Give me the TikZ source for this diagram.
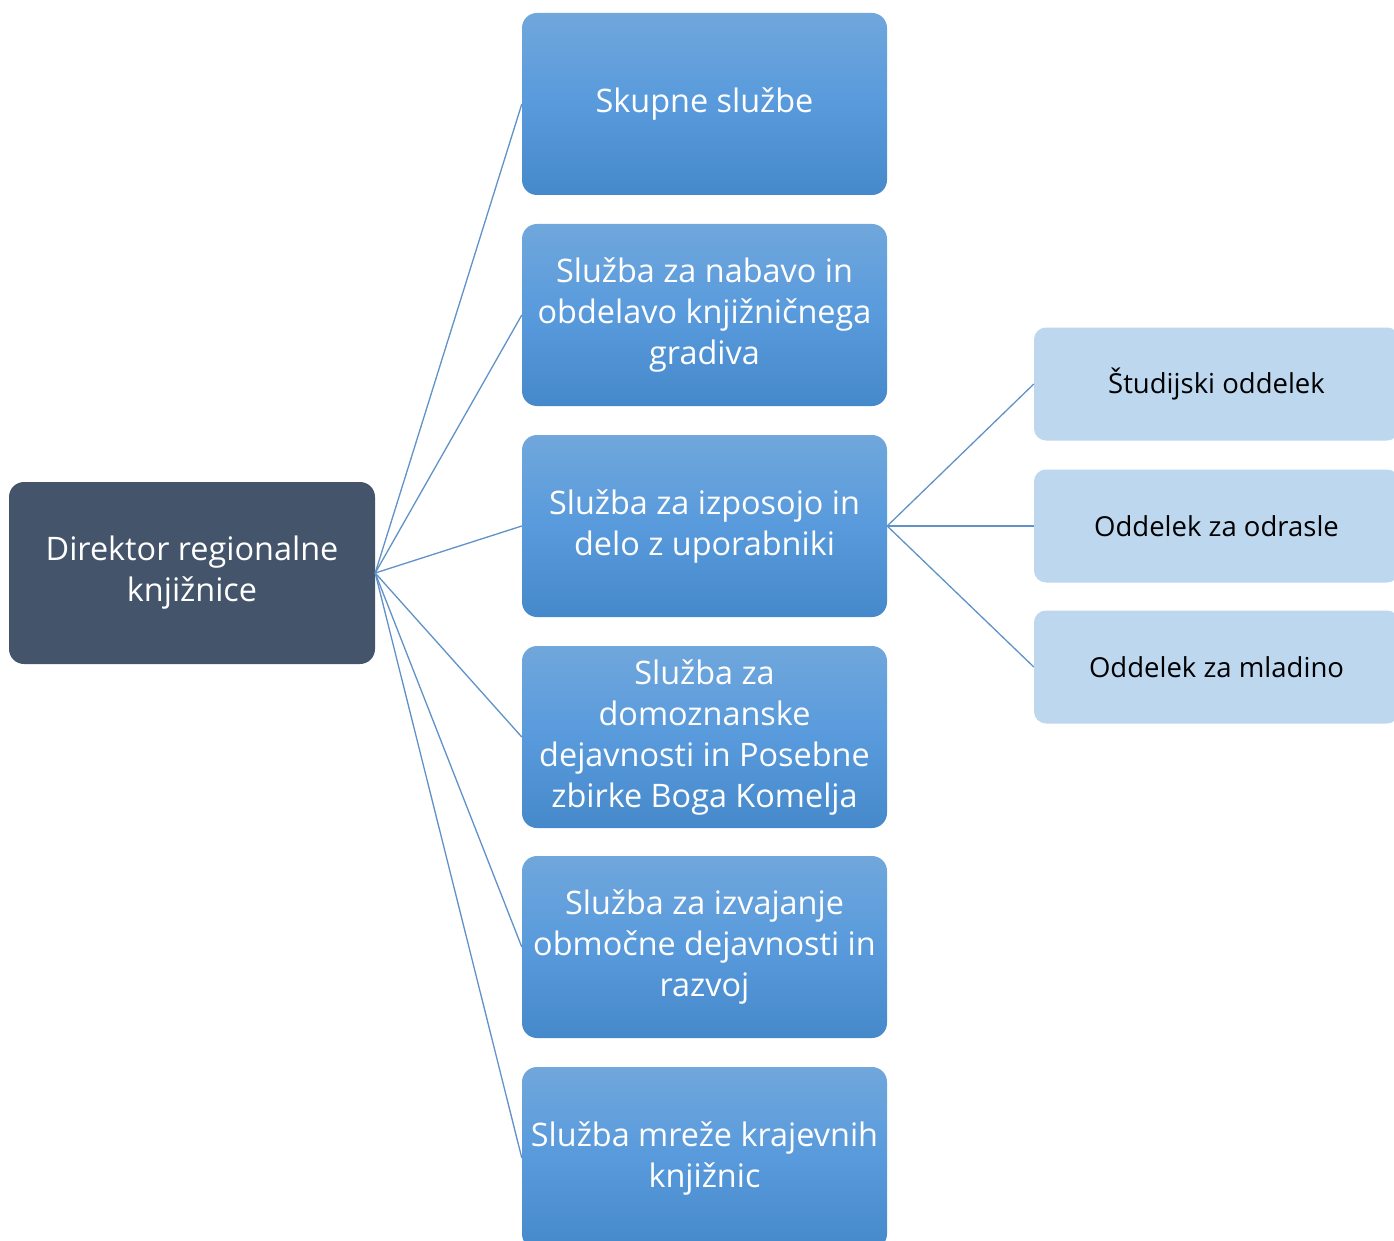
\documentclass[tikz,border=0pt]{standalone}
\usepackage{fontspec}
\setmainfont{Open Sans}
\definecolor{dircol}{RGB}{68,84,106}
\definecolor{btop}{RGB}{112,167,220}
\definecolor{bmid}{RGB}{88,154,220}
\definecolor{bbot}{RGB}{70,137,203}
\definecolor{lightb}{RGB}{189,215,238}
\definecolor{linec}{RGB}{96,146,200}
\begin{document}
\begin{tikzpicture}[x=1pt,y=-1pt,
  dirbox/.style={draw=none,fill=dircol,rounded corners=15pt,minimum width=366pt,minimum height=182pt,inner sep=0pt,text=white,align=center,font=\fontsize{32.4}{41}\selectfont},
  midbox/.style={draw=none,rounded corners=15pt,top color=btop,bottom color=bbot,middle color=bmid,minimum width=365pt,minimum height=182pt,inner sep=0pt,text=white,align=center,font=\fontsize{32.4}{41}\selectfont},
  subbox/.style={draw=none,fill=lightb,rounded corners=12pt,minimum width=365pt,minimum height=113pt,inner sep=0pt,text=black,align=center,font=\fontsize{27.5}{34}\selectfont},
  conn/.style={draw=linec,line width=1.3pt}]
\useasboundingbox (0,0) rectangle (1394,1241);
\clip (0,0) rectangle (1394,1241);
\fill[white] (0,0) rectangle (1394,1241);
\node[dirbox] (dir) at (192,573) {Direktor regionalne\\knjižnice};
\node[midbox] (s1) at (704.5,104) {Skupne službe};
\node[midbox] (s2) at (704.5,315) {Služba za nabavo in\\obdelavo knjižničnega\\gradiva};
\node[midbox] (s3) at (704.5,526) {Služba za izposojo in\\delo z uporabniki};
\node[midbox] (s4) at (704.5,737) {Služba za\\domoznanske\\dejavnosti in Posebne\\zbirke Boga Komelja};
\node[midbox] (s5) at (704.5,947) {Služba za izvajanje\\območne dejavnosti in\\razvoj};
\node[midbox] (s6) at (704.5,1158) {Služba mreže krajevnih\\knjižnic};
\node[subbox] (o1) at (1216.5,384) {Študijski oddelek};
\node[subbox] (o2) at (1216.5,526) {Oddelek za odrasle};
\node[subbox] (o3) at (1216.5,667) {Oddelek za mladino};
\foreach \s in {s1,s2,s3,s4,s5,s6} {\draw[conn] (dir.east) -- (\s.west);}
\foreach \o in {o1,o2,o3} {\draw[conn] (s3.east) -- (\o.west);}
\end{tikzpicture}
\end{document}
